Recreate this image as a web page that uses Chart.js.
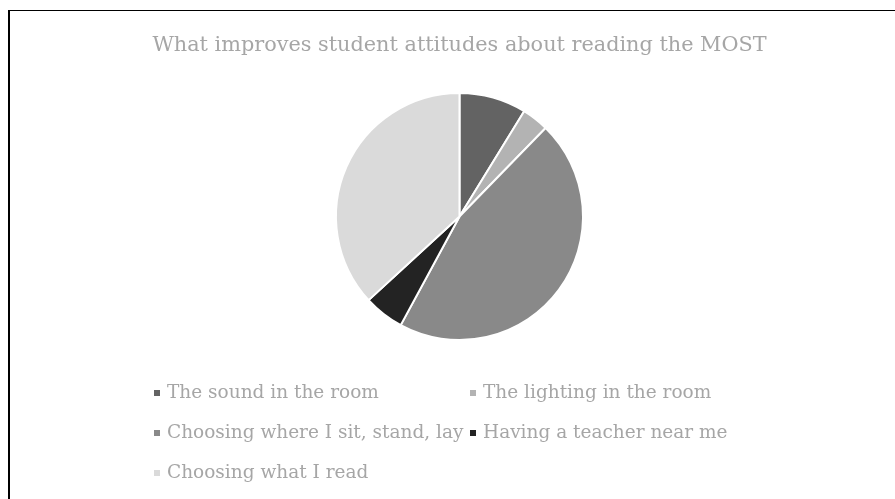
<!DOCTYPE html>
<html>
<head>
<meta charset="utf-8">
<script src="https://cdn.jsdelivr.net/npm/chart.js@4/dist/chart.umd.min.js"></script>
<style>
  html, body { margin: 0; padding: 0; background: #fff; overflow: hidden; }
  #frame { position: absolute; left: 8px; top: 10px; width: 900px; height: 500px;
           border-left: 2px solid #000; border-top: 1px solid #000; }
  #wrap { position: absolute; left: 0; top: 0; width: 895px; height: 499px; }
</style>
</head>
<body>
<div id="frame"></div>
<div id="wrap"><canvas id="pie"></canvas></div>
<script>
const chartTitle = "What improves student attitudes about reading the MOST";
const labels = [
  "The sound in the room",
  "The lighting in the room",
  "Choosing where I sit, stand, lay",
  "Having a teacher near me",
  "Choosing what I read",
];
const responses = [5, 2, 26, 3, 21];
const sliceColors = ["#636363", "#b3b3b3", "#898989", "#232323", "#dadada"];

const textGray = "#a6a6a6";
const serif = "'DejaVu Serif', Georgia, serif";

// two-column legend under the pie, like the spreadsheet one
const legendCols = [154, 470];
const legendRows = [393, 433, 473];

const gridLegend = {
  id: "gridLegend",
  afterDraw(chart) {
    const ctx = chart.ctx;
    const colors = chart.data.datasets[0].backgroundColor;
    ctx.save();
    ctx.font = "18.5px " + serif;
    ctx.textBaseline = "middle";
    chart.data.labels.forEach((label, i) => {
      const x = legendCols[i % 2];
      const y = legendRows[Math.floor(i / 2)];
      ctx.fillStyle = colors[i];
      ctx.fillRect(x, y - 3, 6, 6);
      ctx.fillStyle = textGray;
      ctx.fillText(label, x + 13, y);
    });
    ctx.restore();
  },
};

new Chart(document.getElementById("pie"), {
  type: "pie",
  data: {
    labels,
    datasets: [
      {
        data: responses,
        backgroundColor: sliceColors,
        borderColor: "#fff",
        borderWidth: 2,
      },
    ],
  },
  options: {
    responsive: true,
    maintainAspectRatio: false,
    animation: false,
    layout: { padding: { top: 0, bottom: 158, left: 24, right: 0 } },
    plugins: {
      legend: { display: false },
      tooltip: { enabled: false },
      title: {
        display: true,
        text: chartTitle,
        color: textGray,
        font: { family: serif, size: 20.8, weight: "normal" },
        padding: { top: 33.5, bottom: 33.5 },
      },
    },
  },
  plugins: [gridLegend],
});
</script>
</body>
</html>
